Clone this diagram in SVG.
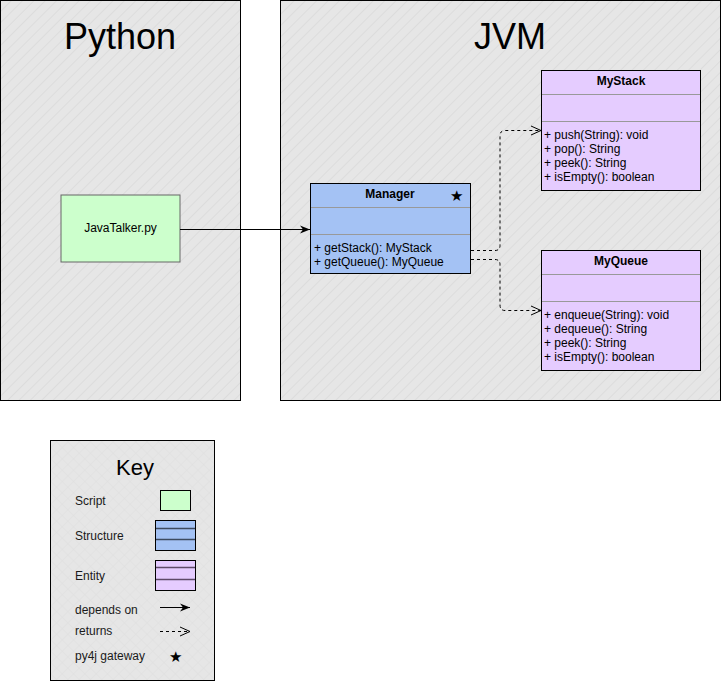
<svg xmlns="http://www.w3.org/2000/svg" width="721" height="681" viewBox="0 0 721 681">
<defs>
<pattern id="hatch" width="8" height="8" patternUnits="userSpaceOnUse" patternTransform="rotate(45)">
<rect width="8" height="8" fill="#e6e6e6"/>
<line x1="0" y1="0" x2="0" y2="8" stroke="#dcdcdc" stroke-width="2"/>
</pattern>
<pattern id="cross" width="8" height="8" patternUnits="userSpaceOnUse" patternTransform="rotate(45)">
<rect width="8" height="8" fill="#e6e6e6"/>
<path d="M0 0V8M0 0H8" stroke="#dedede" stroke-width="1"/>
</pattern>
<marker id="solid" viewBox="0 0 10 10" refX="10" refY="5" markerWidth="10" markerHeight="10" markerUnits="userSpaceOnUse" orient="auto">
<path d="M0 1 L10 5 L0 9 L3 5 Z" fill="#000"/>
</marker>
<marker id="open" viewBox="0 0 12 12" refX="11" refY="6" markerWidth="12" markerHeight="12" markerUnits="userSpaceOnUse" orient="auto">
<path d="M1 1.5 L11 6 L1 10.5" fill="none" stroke="#000" stroke-width="1"/>
</marker>
</defs>
<style>
.t{font-family:"Liberation Sans",Arial,sans-serif;fill:#000}
.m{font-size:12px}
.b{font-size:12px;font-weight:bold}
.k{font-size:12px;fill:#1a1a1a}
.sep{stroke:#999;stroke-width:1}
</style>
<rect x="0" y="0" width="721" height="681" fill="#fff"/>
<g id="python">
<rect x="0.5" y="0.5" width="240" height="400" fill="url(#hatch)" stroke="#000"/>
<text class="t" x="120" y="49" font-size="36" text-anchor="middle">Python</text>
</g>
<g id="jvm">
<rect x="280.5" y="0.5" width="440" height="400" fill="url(#hatch)" stroke="#000"/>
<text class="t" x="510" y="49" font-size="36" text-anchor="middle">JVM</text>
</g>
<g id="javatalker">
<rect x="61" y="195" width="119" height="67" fill="#ccffcc" stroke="#666" stroke-width="1"/>
<text class="t m" x="120.5" y="232" text-anchor="middle" fill="#333">JavaTalker.py</text>
</g>
<g id="manager">
<rect x="310.5" y="183.5" width="160" height="90" fill="#a4c2f4" stroke="#000"/>
<line class="sep" x1="311" y1="207.5" x2="470" y2="207.5"/>
<line class="sep" x1="311" y1="234.5" x2="470" y2="234.5"/>
<text class="t b" x="390" y="198" text-anchor="middle">Manager</text>
<text class="t" x="456" y="201" font-size="15" text-anchor="middle">★</text>
<text class="t m" x="314" y="252">+ getStack(): MyStack</text>
<text class="t m" x="314" y="266">+ getQueue(): MyQueue</text>
</g>
<g id="mystack">
<rect x="541.5" y="70.5" width="159" height="120" fill="#e5ccff" stroke="#000"/>
<line class="sep" x1="542" y1="94.5" x2="700" y2="94.5"/>
<line class="sep" x1="542" y1="121.5" x2="700" y2="121.5"/>
<text class="t b" x="621" y="85" text-anchor="middle">MyStack</text>
<text class="t m" x="544" y="139">+ push(String): void</text>
<text class="t m" x="544" y="153">+ pop(): String</text>
<text class="t m" x="544" y="167">+ peek(): String</text>
<text class="t m" x="544" y="181">+ isEmpty(): boolean</text>
</g>
<g id="myqueue">
<rect x="541.5" y="250.5" width="159" height="120" fill="#e5ccff" stroke="#000"/>
<line class="sep" x1="542" y1="274.5" x2="700" y2="274.5"/>
<line class="sep" x1="542" y1="301.5" x2="700" y2="301.5"/>
<text class="t b" x="621" y="265" text-anchor="middle">MyQueue</text>
<text class="t m" x="544" y="319">+ enqueue(String): void</text>
<text class="t m" x="544" y="333">+ dequeue(): String</text>
<text class="t m" x="544" y="347">+ peek(): String</text>
<text class="t m" x="544" y="361">+ isEmpty(): boolean</text>
</g>
<g id="connectors" fill="none" stroke="#000" stroke-width="1">
<path d="M180 229.5 H310" marker-end="url(#solid)"/>
<path d="M471 250.5 H495 Q500 250.5 500 245.5 V136 Q500 130.5 505 130.5 H541" stroke-dasharray="3 3" marker-end="url(#open)"/>
<path d="M471 259.5 H495 Q500 259.5 500 264.5 V305 Q500 310.5 505 310.5 H541" stroke-dasharray="3 3" marker-end="url(#open)"/>
</g>
<g id="key">
<rect x="50.5" y="440.5" width="164" height="240" fill="url(#cross)" stroke="#000"/>
<text class="t" x="135" y="475" font-size="22" text-anchor="middle" fill="#1a1a1a">Key</text>
<text class="t k" x="75" y="505">Script</text>
<rect x="160.5" y="490.5" width="30" height="20" fill="#ccffcc" stroke="#000"/>
<text class="t k" x="75" y="540">Structure</text>
<rect x="155.5" y="520.5" width="40" height="30" fill="#a4c2f4" stroke="#000"/>
<line x1="156" y1="528.5" x2="195" y2="528.5" stroke="#3d4a5e" stroke-width="1.5"/>
<line x1="156" y1="539.5" x2="195" y2="539.5" stroke="#3d4a5e" stroke-width="1.5"/>
<text class="t k" x="75" y="580">Entity</text>
<rect x="155.5" y="560.5" width="40" height="30" fill="#e5ccff" stroke="#000"/>
<line x1="156" y1="567.5" x2="195" y2="567.5" stroke="#5e4a68" stroke-width="1.5"/>
<line x1="156" y1="579.5" x2="195" y2="579.5" stroke="#5e4a68" stroke-width="1.5"/>
<text class="t k" x="75" y="614">depends on</text>
<path d="M160 607.5 H190" stroke="#000" marker-end="url(#solid)"/>
<text class="t k" x="75" y="635">returns</text>
<path d="M160 631.5 H190" stroke="#000" stroke-dasharray="3 3" fill="none" marker-end="url(#open)"/>
<text class="t k" x="75" y="660">py4j gateway</text>
<text class="t" x="175" y="662" font-size="15" text-anchor="middle">★</text>
</g>
</svg>
